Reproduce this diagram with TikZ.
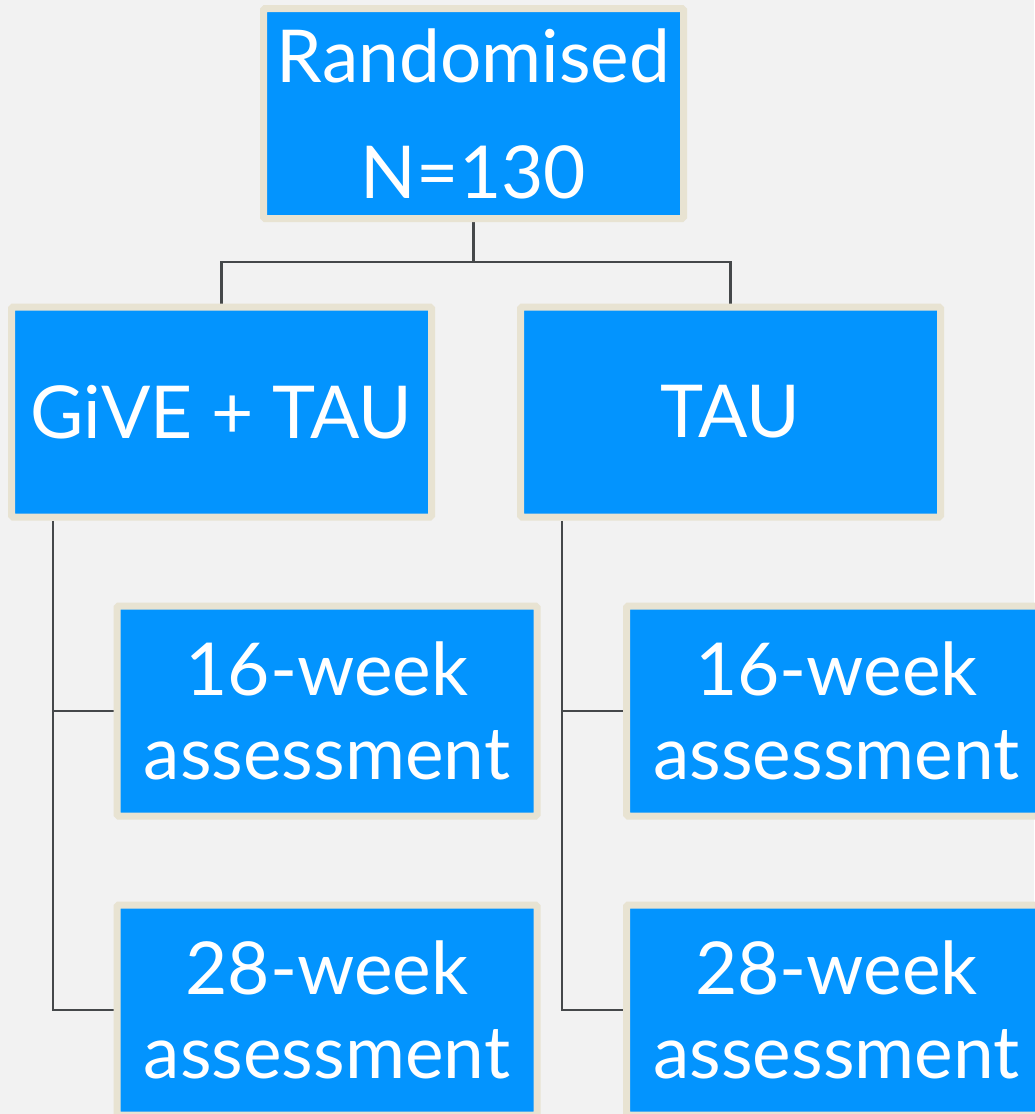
\documentclass[tikz,border=0pt]{standalone}
\usepackage{fontspec}
\setmainfont{Lato}
\usetikzlibrary{positioning}
\pgfdeclarelayer{edgelayer}
\pgfdeclarelayer{nodelayer}
\pgfsetlayers{edgelayer,nodelayer,main}
\definecolor{boxblue}{HTML}{0394FE}
\definecolor{boxrim}{HTML}{E8E3D2}
\definecolor{pagegrey}{HTML}{F2F2F2}
\definecolor{linegrey}{HTML}{45484A}
\tikzstyle{arm}=[rectangle,fill=boxblue,draw=boxrim,line width=7pt,rounded corners=1.5pt,text=white,align=center,minimum width=420pt,minimum height=210pt,inner sep=0pt,font=\fontsize{73}{84}\selectfont]
\tikzstyle{link}=[draw=linegrey,line width=2.2pt]

\begin{document}
\begin{tikzpicture}[x=1pt,y=-1pt]
\begin{pgfonlayer}{edgelayer}
\fill[pagegrey] (0,0) rectangle (1034,1114);
\end{pgfonlayer}
\useasboundingbox (0,0) rectangle (1034,1114);
\node[arm] (R) at (473.5,113.5) {Randomised\\[32pt]N=130};
\node[arm] (G) at (221.5,412) {GiVE + TAU};
\node[arm] (T) at (730.5,412) {TAU};
\node[arm] (G16) at (327,711) {16-week\\assessment};
\node[arm] (G28) at (327,1010) {28-week\\assessment};
\node[arm] (T16) at (836.5,711) {16-week\\assessment};
\node[arm] (T28) at (836.5,1010) {28-week\\assessment};
\begin{pgfonlayer}{edgelayer}
\path[link]
(R.south) -- ++(0,40) -| (G.north)
(R.south) -- ++(0,40) -| (T.north)
([xshift=45pt]G.south west) |- (G16.west)
([xshift=45pt]G.south west) |- (G28.west)
([xshift=45pt]T.south west) |- (T16.west)
([xshift=45pt]T.south west) |- (T28.west);
\end{pgfonlayer}
\end{tikzpicture}
\end{document}
